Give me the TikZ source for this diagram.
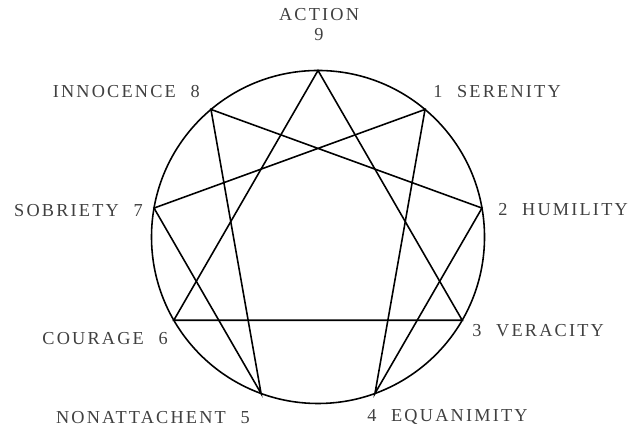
\documentclass[tikz,border=0pt]{standalone}
\usepackage{fontspec}
\setmainfont{Liberation Serif}
\newfontfamily\capsfont[LetterSpace=12]{Liberation Serif}
\usepackage{xcolor}
\usepackage{tikz}
\usetikzlibrary{positioning,calc}

\begin{document}
\begin{tikzpicture}[
  ring/.style={draw, line width=0.9pt},
  chord/.style={draw, line width=0.9pt},
  lab/.style={inner sep=0pt, text=black!75, font=\capsfont\fontsize{10.4}{12}\selectfont},
  rlab/.style={lab, anchor=mid west},
  llab/.style={lab, anchor=mid east}
]
\useasboundingbox (0,0) rectangle (12.74,8.76);
\coordinate (c) at (6.36,4.02);

% points of the figure
\coordinate (p9) at ($(c)+(90:3.33)$);
\coordinate (p1) at ($(c)+(50:3.33)$);
\coordinate (p2) at ($(c)+(10:3.33)$);
\coordinate (p3) at ($(c)+(-30:3.33)$);
\coordinate (p4) at ($(c)+(-70:3.33)$);
\coordinate (p5) at ($(c)+(-110:3.33)$);
\coordinate (p6) at ($(c)+(-150:3.33)$);
\coordinate (p7) at ($(c)+(170:3.33)$);
\coordinate (p8) at ($(c)+(130:3.33)$);

\draw[ring] (c) circle (3.33);

% triangle
\draw[chord] (p9) -- (p3) -- (p6) -- cycle;
% hexad
\draw[chord] (p1) -- (p4) -- (p2) -- (p8) -- (p5) -- (p7) -- cycle;

% labels
\node[lab] (l9a) at (6.38,8.46) {ACTION};
\node[lab] (l9) at (6.38,8.06) {9};
\node[rlab] (l1) at (8.66,6.90) {1\hspace{0.8em}SERENITY};
\node[rlab] (l2) at (9.96,4.54) {2\hspace{0.8em}HUMILITY};
\node[rlab] (l3) at (9.44,2.12) {3\hspace{0.8em}VERACITY};
\node[rlab] (l4) at (7.34,0.42) {4\hspace{0.8em}EQUANIMITY};
\node[llab] (l5) at (5.00,0.38) {NONATTACHENT\hspace{0.8em}5};
\node[llab] (l6) at (3.36,1.96) {COURAGE\hspace{0.8em}6};
\node[llab] (l7) at (2.86,4.52) {SOBRIETY\hspace{0.8em}7};
\node[llab] (l8) at (4.00,6.90) {INNOCENCE\hspace{0.8em}8};
\end{tikzpicture}
\end{document}
